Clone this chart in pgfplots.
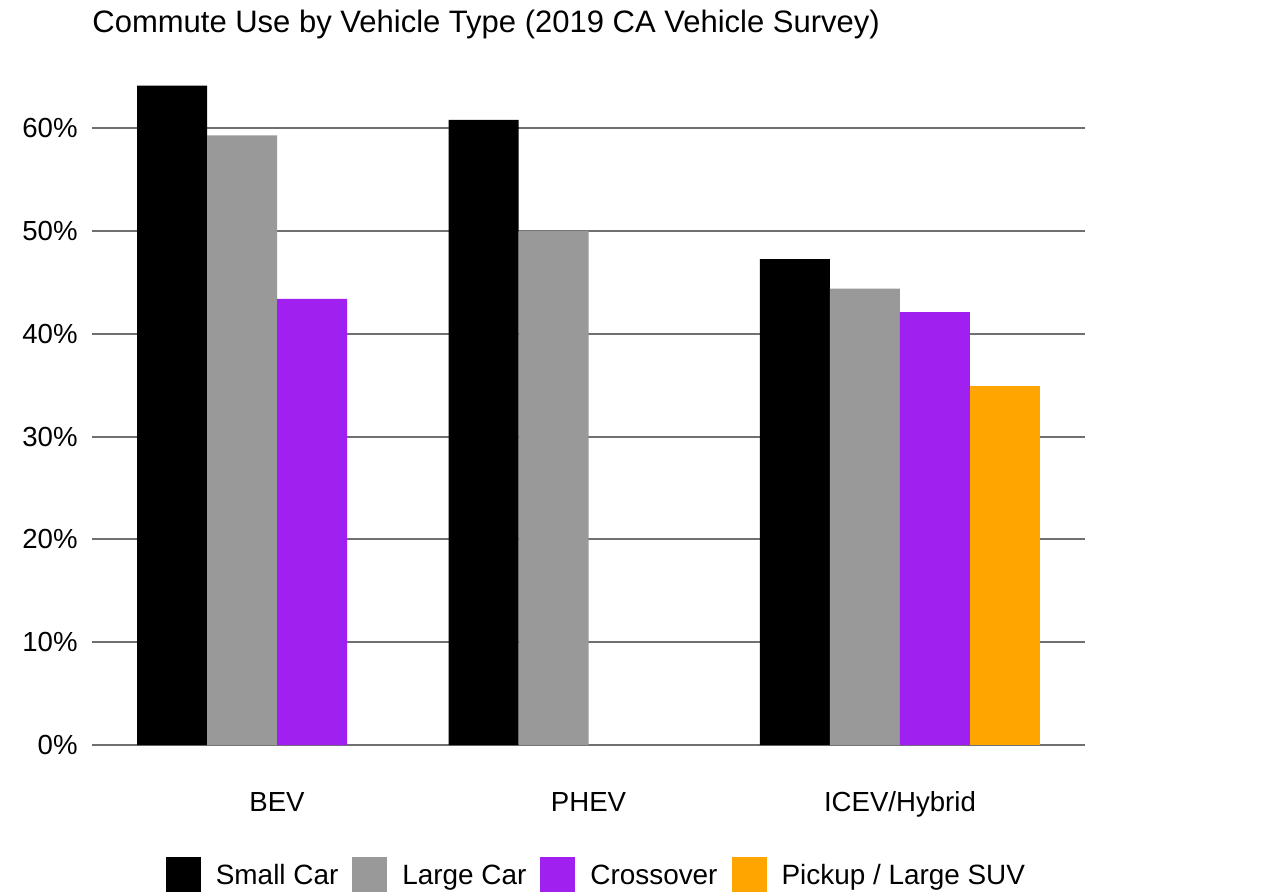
\documentclass[border=0pt]{standalone}
\usepackage{fontspec}
\setmainfont{Liberation Sans}
\usepackage{pgfplots}
\pgfplotsset{compat=1.18}
\definecolor{cgray}{HTML}{999999}
\definecolor{cpurple}{HTML}{A020F0}
\definecolor{corange}{HTML}{FFA500}
\definecolor{gridc}{HTML}{707070}
\pgfplotsset{sq legend/.style={legend image code/.code={\fill[##1] (0bp,-9bp) rectangle (17.5bp,9bp);}}}
\begin{document}
\begin{tikzpicture}
\useasboundingbox (0,0) rectangle (635bp,446bp);
\node[anchor=base west, inner sep=0pt, font=\fontsize{15.5bp}{18bp}\selectfont] at (46bp,429.5bp) {Commute Use by Vehicle Type (2019 CA Vehicle Survey)};
\begin{axis}[
 at={(46bp,73.5bp)}, anchor=south west,
 scale only axis, width=496.5bp, height=330bp,
 xmin=-0.594, xmax=2.594, ymin=0, ymax=64.2,
 enlargelimits=false,
 ybar=0pt, bar width=35bp,
 xtick={0,1,2}, xticklabels={BEV,PHEV,ICEV/Hybrid},
 ytick={0,10,...,60},
 yticklabel={\pgfmathprintnumber{\tick}\%},
 /pgf/number format/assume math mode=true,
 axis line style={draw=none},
 major tick length=0pt,
 ymajorgrids, grid style={draw=gridc, line width=1bp},
 tick label style={font=\fontsize{13.8bp}{16bp}\selectfont},
 yticklabel style={inner sep=0pt, xshift=-7bp, anchor=east},
 xticklabel style={inner sep=0pt, anchor=base, yshift=-33bp},
 legend columns=4,
 legend style={at={(0.507,-0.1965)}, anchor=center, draw=none, fill=none, inner sep=0pt,
   font=\fontsize{13.95bp}{16bp}\selectfont, nodes={inner sep=0pt, text height=13bp, text depth=3bp},
   /tikz/every odd column/.append style={column sep=7.5bp},
   /tikz/every even column/.append style={column sep=7bp}},
]
\addplot[fill=black, draw=none, sq legend] coordinates {(0,64.15) (1,60.8) (2,47.26)};
\addplot[fill=cgray, draw=none, sq legend] coordinates {(0,59.3) (1,50.0) (2,44.4)};
\addplot[fill=cpurple, draw=none, sq legend] coordinates {(0,43.4) (2,42.1)};
\addplot[fill=corange, draw=none, sq legend] coordinates {(2,34.95)};
\legend{Small Car, Large Car, Crossover, Pickup / Large SUV}
\end{axis}
\end{tikzpicture}
\end{document}
